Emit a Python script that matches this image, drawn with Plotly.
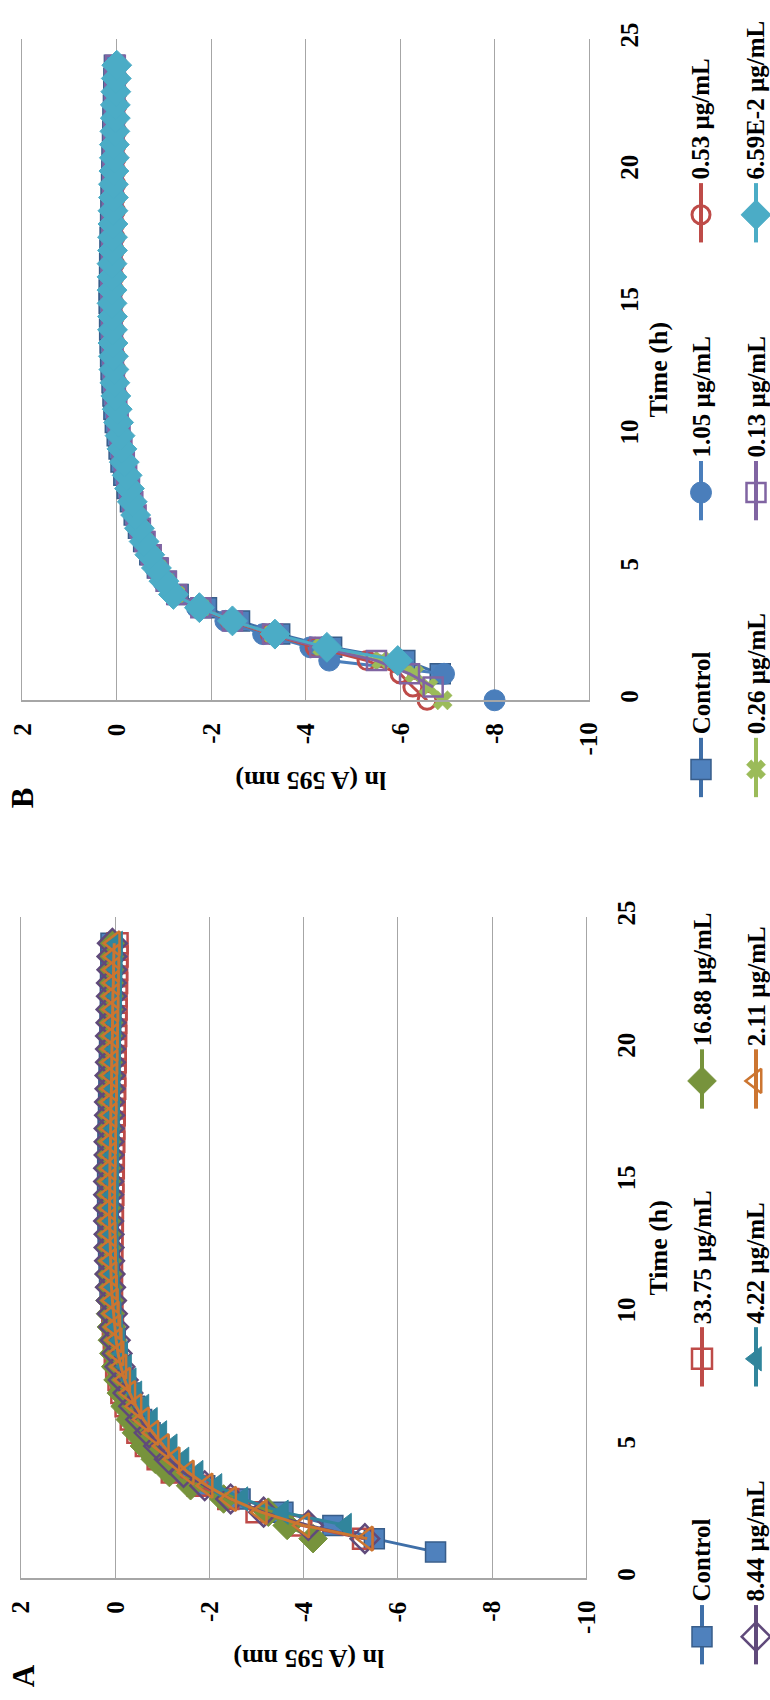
import plotly.graph_objects as go

# ---------------- data ----------------
TIME_H = [0, 0.5, 1, 1.5, 2, 2.5, 3, 3.5, 4, 4.5, 5, 5.5, 6, 6.5, 7, 7.5, 8, 8.5, 9, 9.5,
          10, 10.5, 11, 11.5, 12, 12.5, 13, 13.5, 14, 14.5, 15, 15.5, 16, 16.5, 17, 17.5, 18, 18.5, 19, 19.5,
          20, 20.5, 21, 21.5, 22, 22.5, 23, 23.5, 24]

# Panel A series  (ln(A595))
NAMES_A = ["Control", "33.75 µg/mL", "16.88 µg/mL", "8.44 µg/mL", "4.22 µg/mL", "2.11 µg/mL"]
A_CONTROL = [None, None, -6.8, -5.5, -4.62, -3.56, -2.65, -1.9, -1.45, -1.15,
             -0.93, -0.74, -0.56, -0.41, -0.29, -0.18, -0.1, -0.04, 0.0, 0.04,
             0.07, 0.09, 0.11, 0.12, 0.13, 0.14, 0.15, 0.15, 0.16, 0.16,
             0.16, 0.16, 0.15, 0.15, 0.15, 0.14, 0.14, 0.13, 0.13, 0.12,
             0.12, 0.11, 0.11, 0.1, 0.1, 0.1, 0.09, 0.09, 0.09]
A_33_75 = [None, None, None, -5.26, -3.95, -3.0, -2.4, -1.75, -1.2, -0.9,
           -0.65, -0.47, -0.33, -0.22, -0.13, -0.07, -0.02, 0.01, 0.03, 0.05,
           0.06, 0.07, 0.07, 0.07, 0.07, 0.06, 0.06, 0.05, 0.05, 0.04,
           0.04, 0.03, 0.03, 0.02, 0.02, 0.01, 0.01, 0.0, 0.0, -0.01,
           -0.01, -0.02, -0.02, -0.03, -0.03, -0.04, -0.04, -0.05, -0.05]
A_16_88 = [None, None, None, -4.2, -3.65, -3.25, -2.3, -1.6, -1.15, -0.85,
           -0.62, -0.45, -0.32, -0.21, -0.13, -0.06, -0.01, 0.03, 0.06, 0.08,
           0.1, 0.11, 0.12, 0.13, 0.13, 0.14, 0.14, 0.14, 0.14, 0.14,
           0.13, 0.13, 0.13, 0.12, 0.12, 0.12, 0.11, 0.11, 0.1, 0.1,
           0.09, 0.09, 0.08, 0.08, 0.07, 0.07, 0.06, 0.06, 0.05]
A_8_44 = [None, None, None, -5.3, -4.1, -3.15, -2.45, -1.9, -1.45, -1.15,
          -0.92, -0.72, -0.54, -0.39, -0.27, -0.17, -0.1, -0.04, 0.0, 0.03,
          0.06, 0.08, 0.1, 0.11, 0.12, 0.13, 0.13, 0.14, 0.14, 0.14,
          0.14, 0.14, 0.13, 0.13, 0.13, 0.12, 0.12, 0.11, 0.11, 0.1,
          0.1, 0.1, 0.09, 0.09, 0.08, 0.08, 0.07, 0.07, 0.06]
A_4_22 = [None, None, None, None, -4.9, -3.56, -2.7, -2.15, -1.75, -1.45,
          -1.2, -0.98, -0.78, -0.6, -0.45, -0.33, -0.23, -0.15, -0.09, -0.04,
          -0.01, 0.01, 0.03, 0.04, 0.05, 0.05, 0.06, 0.06, 0.06, 0.05,
          0.05, 0.05, 0.04, 0.04, 0.03, 0.03, 0.02, 0.02, 0.01, 0.01,
          0.0, 0.0, -0.01, -0.01, -0.02, -0.02, -0.03, -0.03, -0.04]
A_2_11 = [None, None, None, -5.35, -4.0, -3.1, -2.45, -1.95, -1.55, -1.25,
          -1.02, -0.8, -0.6, -0.44, -0.31, -0.2, -0.12, -0.06, -0.02, 0.01,
          0.04, 0.06, 0.08, 0.09, 0.1, 0.11, 0.11, 0.12, 0.12, 0.12,
          0.12, 0.11, 0.11, 0.1, 0.1, 0.09, 0.09, 0.08, 0.08, 0.07,
          0.07, 0.06, 0.06, 0.05, 0.05, 0.04, 0.04, 0.03, 0.02]
VALUES_A = [A_CONTROL, A_33_75, A_16_88, A_8_44, A_4_22, A_2_11]

# Panel B series
NAMES_B = ["Control", "1.05 µg/mL", "0.53 µg/mL", "0.26 µg/mL", "0.13 µg/mL", "6.59E-2 µg/mL"]
B_CONTROL = [None, None, -6.85, -6.1, -4.55, -3.45, -2.6, -1.9, -1.3, -1.05,
             -0.86, -0.7, -0.57, -0.46, -0.37, -0.29, -0.22, -0.15, -0.09, -0.05,
             -0.01, 0.03, 0.06, 0.08, 0.1, 0.12, 0.13, 0.14, 0.15, 0.15,
             0.16, 0.16, 0.15, 0.15, 0.14, 0.14, 0.13, 0.12, 0.12, 0.11,
             0.1, 0.1, 0.09, 0.08, 0.08, 0.07, 0.06, 0.06, 0.05]
B_1_05 = [-8.0, None, -6.93, -4.5, -4.1, -3.1, -2.3, -1.7, -1.2, -0.98,
          -0.82, -0.68, -0.56, -0.46, -0.38, -0.31, -0.25, -0.19, -0.13, -0.09,
          -0.05, -0.02, 0.01, 0.04, 0.06, 0.08, 0.09, 0.1, 0.11, 0.11,
          0.12, 0.12, 0.12, 0.11, 0.11, 0.1, 0.1, 0.09, 0.09, 0.08,
          0.08, 0.07, 0.07, 0.06, 0.05, 0.05, 0.04, 0.04, 0.03]
B_0_53 = [-6.57, -6.27, -6.0, -5.3, -4.2, -3.25, -2.4, -1.75, -1.25, -1.02,
          -0.87, -0.72, -0.6, -0.5, -0.42, -0.35, -0.29, -0.24, -0.19, -0.14,
          -0.1, -0.07, -0.04, -0.02, 0.0, 0.02, 0.03, 0.04, 0.05, 0.05,
          0.06, 0.06, 0.06, 0.05, 0.05, 0.04, 0.04, 0.03, 0.03, 0.02,
          0.02, 0.01, 0.01, 0.0, 0.0, -0.01, -0.01, -0.02, -0.02]
B_0_26 = [-6.9, -6.6, -6.3, -5.6, -4.35, -3.3, -2.45, -1.78, -1.25, -1.03,
          -0.87, -0.72, -0.6, -0.49, -0.41, -0.34, -0.28, -0.22, -0.17, -0.12,
          -0.08, -0.05, -0.02, 0.01, 0.03, 0.04, 0.05, 0.06, 0.07, 0.07,
          0.08, 0.08, 0.08, 0.08, 0.07, 0.07, 0.06, 0.06, 0.05, 0.05,
          0.04, 0.04, 0.03, 0.03, 0.02, 0.02, 0.01, 0.01, 0.0]
B_0_13 = [None, -6.7, -6.2, -5.5, -4.3, -3.3, -2.45, -1.78, -1.27, -1.05,
          -0.88, -0.73, -0.6, -0.5, -0.41, -0.34, -0.27, -0.21, -0.16, -0.11,
          -0.07, -0.03, 0.0, 0.03, 0.05, 0.07, 0.08, 0.09, 0.1, 0.11,
          0.11, 0.12, 0.12, 0.11, 0.11, 0.1, 0.1, 0.09, 0.09, 0.08,
          0.08, 0.07, 0.07, 0.06, 0.05, 0.05, 0.04, 0.04, 0.03]
B_6_59E_2 = [None, None, None, -5.95, -4.45, -3.35, -2.45, -1.75, -1.2, -1.0,
             -0.84, -0.7, -0.58, -0.48, -0.4, -0.33, -0.27, -0.22, -0.16, -0.11,
             -0.07, -0.04, -0.01, 0.02, 0.04, 0.06, 0.07, 0.08, 0.09, 0.09,
             0.1, 0.1, 0.1, 0.1, 0.09, 0.09, 0.08, 0.08, 0.07, 0.07,
             0.06, 0.05, 0.05, 0.04, 0.03, 0.03, 0.02, 0.01, 0.0]
VALUES_B = [B_CONTROL, B_1_05, B_0_53, B_0_26, B_0_13, B_6_59E_2]

LN_TICKS = [-10, -8, -6, -4, -2, 0, 2]
TIME_TICKS = [0, 5, 10, 15, 20, 25]
LN_TITLE = "ln (A 595 nm)"
TIME_TITLE = "Time (h)"

# ---------------- styles ----------------
def st(symbol, color, fill, edge, lw, size):
    return dict(symbol=symbol, color=color, fill=fill, edge=edge, lw=lw, size=size)

STYLES_A = [
    st("square", "#3F6FA8", "#4F81BD", "#385D8A", 1.5, 20),
    st("square-open", "#BE4B48", "#BE4B48", "#BE4B48", 2.5, 20),
    st("diamond", "#77933C", "#77933C", "#77933C", 1, 22),
    st("diamond-open", "#604A7B", "#604A7B", "#604A7B", 2.5, 22),
    st("triangle-left", "#31859C", "#31859C", "#31859C", 1, 21),
    st("triangle-left-open", "#CC7530", "#CC7530", "#CC7530", 2.5, 21),
]
STYLES_B = [
    st("square", "#3F6FA8", "#4F81BD", "#385D8A", 1.5, 20),
    st("circle", "#4A7EBB", "#4A7EBB", "#4A7EBB", 1, 21),
    st("circle-open", "#BE4B48", "#BE4B48", "#BE4B48", 3, 18),
    st("x", "#9BBB59", "#9BBB59", "#9BBB59", 0.5, 17),
    st("square-open", "#8064A2", "#8064A2", "#8064A2", 2.5, 19),
    st("diamond", "#4BACC6", "#4BACC6", "#4BACC6", 1, 23),
]

W, H = 770, 1700
FONT_FAMILY = "Liberation Serif"
FS = 25
GRID = "#A6A6A6"

# plot-area pixel boxes: (left, right, top, bottom)
BOX_A = (21, 586.3, 911, 1580)
BOX_B = (22.3, 589, 23, 692)


def px(x, y):
    return x / W, 1 - y / H


fig = go.Figure()


def add_panel(values, names, styles, xa, ya):
    for vals, name, s in zip(values, names, styles):
        fig.add_trace(go.Scatter(
            x=vals, y=TIME_H, name=name, mode="lines+markers",
            xaxis=xa, yaxis=ya, cliponaxis=False,
            line=dict(color=s["color"], width=3),
            marker=dict(symbol=s["symbol"], size=s["size"], color=s["fill"],
                        line=dict(color=s["edge"], width=s["lw"])),
        ))


add_panel(VALUES_A, NAMES_A, STYLES_A, "x", "y")
add_panel(VALUES_B, NAMES_B, STYLES_B, "x2", "y2")

tickfont = dict(family=FONT_FAMILY, size=FS, color="black", weight="bold")


def xaxis_cfg(box, anchor):
    l, r, t, b = box
    return dict(domain=[l / W, r / W], range=[2, -10], anchor=anchor,
                tickvals=LN_TICKS, showticklabels=False,
                showgrid=True, gridcolor=GRID, gridwidth=1, zeroline=False,
                showline=True, linecolor=GRID, linewidth=1.5, ticks="")


def yaxis_cfg(box, anchor):
    l, r, t, b = box
    return dict(domain=[1 - b / H, 1 - t / H], range=[0, 25], anchor=anchor,
                side="right", tickvals=TIME_TICKS, ticktext=[str(v) for v in TIME_TICKS],
                tickangle=-90, tickfont=tickfont, ticklabelstandoff=18,
                showgrid=False, zeroline=False, showline=True, mirror=True,
                linecolor=GRID, linewidth=1, ticks="")


layout = dict(
    width=W, height=H, margin=dict(l=0, r=0, t=0, b=0),
    paper_bgcolor="white", plot_bgcolor="rgba(0,0,0,0)", showlegend=False,
    xaxis=xaxis_cfg(BOX_A, "y"), yaxis=yaxis_cfg(BOX_A, "x"),
    xaxis2=xaxis_cfg(BOX_B, "y2"), yaxis2=yaxis_cfg(BOX_B, "x2"),
    xaxis3=dict(domain=[0, 1], range=[0, W], visible=False, anchor="y3"),
    yaxis3=dict(domain=[0, 1], range=[H, 0], visible=False, anchor="x3"),
)
fig.update_layout(**layout)

annotations = []

# ln tick labels (top-aligned under the plot, rotated like the rest of the figure)
for xref, box in [("x", BOX_A), ("x2", BOX_B)]:
    l, r, t, b = box
    _, ly = px(0, b + 21)
    for v in LN_TICKS:
        annotations.append(dict(text=str(v), x=v, xref=xref, y=ly, yref="paper",
                                xanchor="center", yanchor="top", textangle=-90,
                                showarrow=False, font=tickfont))

# ---------------- legends (rotated, drawn manually) ----------------
LEG_ROWS_A = [702, 756]
LEG_COLS_A = [1667, 1386, 1105]
LEG_ROWS_B = [701, 756]
LEG_COLS_B = [790, 510, 229]
LEG_LEN = 60


def add_legend(names, styles, rows, cols):
    for i, (name, s) in enumerate(zip(names, styles)):
        rx = rows[i // 3]
        yb = cols[i % 3]
        fig.add_trace(go.Scatter(x=[rx, rx], y=[yb, yb - LEG_LEN], mode="lines",
                                 xaxis="x3", yaxis="y3", hoverinfo="skip",
                                 line=dict(color=s["color"], width=4)))
        fig.add_trace(go.Scatter(x=[rx], y=[yb - 28], mode="markers",
                                 xaxis="x3", yaxis="y3", hoverinfo="skip", cliponaxis=False,
                                 marker=dict(symbol=s["symbol"], size=s["size"], color=s["fill"],
                                             line=dict(color=s["edge"], width=s["lw"]))))
        ax, ay = px(rx, yb - LEG_LEN - 1)
        annotations.append(dict(text=name, x=ax, y=ay, xref="paper", yref="paper",
                                xanchor="center", yanchor="bottom", textangle=-90,
                                showarrow=False, font=tickfont))


add_legend(NAMES_A, STYLES_A, LEG_ROWS_A, LEG_COLS_A)
add_legend(NAMES_B, STYLES_B, LEG_ROWS_B, LEG_COLS_B)

titlefont = dict(family=FONT_FAMILY, size=FS + 1, color="black", weight="bold")
labelfont = dict(family=FONT_FAMILY, size=31, color="black", weight="bold")

for box, lab, lab_pos in [(BOX_A, "A", (23, 1679)), (BOX_B, "B", (22, 791))]:
    l, r, t, b = box
    tx, ty = px(659, (t + b) / 2)
    annotations.append(dict(text=TIME_TITLE, x=tx, y=ty, xref="paper", yref="paper",
                            xanchor="center", yanchor="middle", textangle=-90,
                            showarrow=False, font=titlefont))
    lx, ly = px((l + r) / 2 + 5, b + 81)
    annotations.append(dict(text=LN_TITLE, x=lx, y=ly, xref="paper", yref="paper",
                            xanchor="center", yanchor="middle", textangle=180,
                            showarrow=False, font=titlefont))
    qx, qy = px(*lab_pos)
    annotations.append(dict(text=lab, x=qx, y=qy, xref="paper", yref="paper",
                            xanchor="center", yanchor="middle", textangle=-90,
                            showarrow=False, font=labelfont))

fig.update_layout(annotations=annotations)

fig.write_html("out.html")
